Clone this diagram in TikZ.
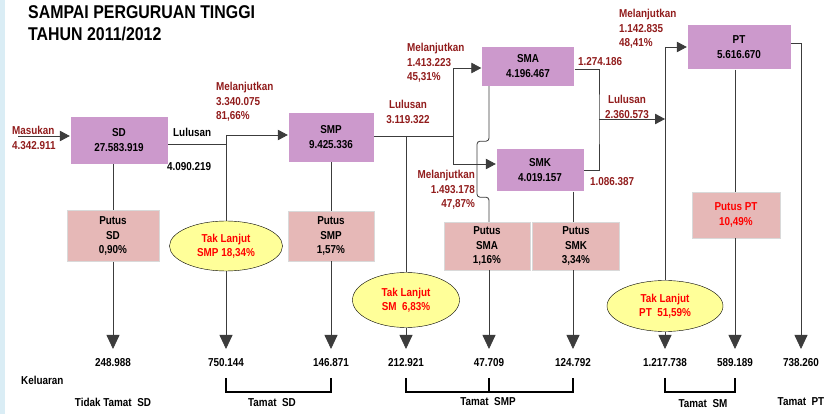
\documentclass[tikz,border=0pt]{standalone}
\usepackage{fontspec}
\setmainfont[FakeStretch=0.86]{Liberation Sans}
\usetikzlibrary{positioning,shapes.geometric,arrows.meta}
\definecolor{levelpurple}{RGB}{204,153,204}
\definecolor{putuspink}{RGB}{230,184,183}
\definecolor{taklanjut}{RGB}{255,255,153}
\definecolor{labelred}{RGB}{145,28,28}
\definecolor{stripblue}{RGB}{218,237,245}
\definecolor{linegray}{RGB}{60,60,60}

\begin{document}
\begin{tikzpicture}[x=1pt, y=-1pt,
    every node/.style={font=\bfseries\fontsize{11.5}{14.5}\selectfont, inner sep=0pt},
    level/.style={draw=white, fill=levelpurple, align=center},
    putus/.style={draw=black!15, fill=putuspink, align=center},
    tak/.style={draw=black, ellipse, fill=taklanjut, text=red, align=center},
    lbl/.style={text=labelred},
    num/.style={anchor=north, outer ysep=9pt},
    link/.style={draw=linegray, line width=0.8pt},
    harr/.style={link, -{Triangle[width=10.5pt,length=10pt]}},
    varr/.style={link, -{Triangle[width=13pt,length=14pt]}},
    brk/.style={draw=black, line width=1.8pt}]
        \fill [stripblue] (0,0) rectangle (5,414);
        \useasboundingbox (0,0) rectangle (831,414);

        \node (title) at (28,5) [anchor=north west, align=left, font=\bfseries\fontsize{18.5}{22}\selectfont] {SAMPAI PERGURUAN TINGGI\\TAHUN 2011/2012};

        \node (sd) at (119,140) [level, minimum width=98pt, minimum height=48pt] {SD\\27.583.919};
        \node (smp) at (331,137) [level, minimum width=86pt, minimum height=50pt] {SMP\\9.425.336};
        \node (sma) at (528,66) [level, minimum width=93pt, minimum height=40pt] {SMA\\4.196.467};
        \node (smk) at (540,170) [level, minimum width=88pt, minimum height=43pt] {SMK\\4.019.157};
        \node (pt) at (739,47) [level, minimum width=104pt, minimum height=45pt] {PT\\5.616.670};

        \node (psd) at (113,236) [putus, minimum width=92pt, minimum height=51pt] {Putus\\SD\\0,90\%};
        \node (psmp) at (331,236) [putus, minimum width=86pt, minimum height=50pt] {Putus\\SMP\\1,57\%};
        \node (psma) at (487,246) [putus, minimum width=86pt, minimum height=48pt] {Putus\\SMA\\1,16\%};
        \node (psmk) at (576,246) [putus, minimum width=87pt, minimum height=48pt] {Putus\\SMK\\3,34\%};
        \node (ppt) at (736,215) [putus, text=red, minimum width=88pt, minimum height=46pt] {Putus PT\\10,49\%};

        \node (tsmp) at (226,246) [tak, minimum width=113pt, minimum height=50pt] {Tak Lanjut\\SMP 18,34\%};
        \node (tsm) at (406,300) [tak, minimum width=107pt, minimum height=55pt] {Tak Lanjut\\SM\ \ 6,83\%};
        \node (tpt) at (665,306) [tak, minimum width=116pt, minimum height=51pt] {Tak Lanjut\\PT\ \ 51,59\%};

        \node (kel1) at (113,349) [num] {248.988};
        \node (kel2) at (226,349) [num] {750.144};
        \node (kel3) at (331,349) [num] {146.871};
        \node (kel4) at (406,349) [num] {212.921};
        \node (kel5) at (489,349) [num] {47.709};
        \node (kel6) at (573,349) [num] {124.792};
        \node (kel7) at (665,349) [num] {1.217.738};
        \node (kel8) at (735,349) [num] {589.189};
        \node (kel9) at (801,349) [num] {738.260};

        \node (masukan) at (12,126) [lbl, anchor=north west, align=left] {Masukan\\4.342.911};
        \node (lulussd) at (173,128) [anchor=north west] {Lulusan};
        \node (lulussdn) at (167,162) [anchor=north west] {4.090.219};
        \node (lanjutsmp) at (216,82) [lbl, anchor=north west, align=left] {Melanjutkan\\3.340.075\\81,66\%};
        \node (lulussmp) at (408,100) [lbl, anchor=north, align=center] {Lulusan\\3.119.322};
        \node (lanjutsma) at (407,43) [lbl, anchor=north west, align=left] {Melanjutkan\\1.413.223\\45,31\%};
        \node (lanjutsmk) at (475,170) [lbl, anchor=north east, align=right] {Melanjutkan\\1.493.178\\47,87\%};
        \node (lulussma) at (578,57) [lbl, anchor=north west] {1.274.186};
        \node (lulussmk) at (590,177) [lbl, anchor=north west] {1.086.387};
        \node (lulussm) at (627,95) [lbl, anchor=north, align=center] {Lulusan\\2.360.573};
        \node (lanjutpt) at (619,9) [lbl, anchor=north west, align=left] {Melanjutkan\\1.142.835\\48,41\%};

        \node (keluaran) at (21,376) [anchor=north west] {Keluaran};
        \node (tidaktamat) at (113,398) [anchor=north] {Tidak Tamat\ \ SD};
        \node (tamatsd) at (272,398) [anchor=north] {Tamat\ \ SD};
        \node (tamatsmp) at (488,397) [anchor=north] {Tamat\ \ SMP};
        \node (tamatsm) at (703,399) [anchor=north] {Tamat\ \ SM};
        \node (tamatpt) at (801,397) [anchor=north] {Tamat\ \ PT};

        \coordinate (masuk) at (18,136);
        \coordinate (sdjoin) at (226,135);
        \coordinate (smpjoin) at (406,136);
        \coordinate (smsplit) at (453,136);
        \coordinate (smjoin) at (599,119);
        \coordinate (ptsplit) at (665,47);
        \coordinate (braceline) at (0,378);

        \draw [harr] (masuk) -- (sd.west |- masuk);
        \draw [link] (sd.south -| psd) -- (psd);
        \draw [varr] (psd) -- (kel1);

        \draw [link] ([yshift=-4pt]sd.east) -- (sdjoin |- 0,144);
        \draw [link] (sdjoin) -- (tsmp);
        \draw [harr] (sdjoin) -- (smp.west |- sdjoin);
        \draw [varr] (tsmp) -- (kel2);
        \draw [link] (smp) -- (psmp);
        \draw [varr] (psmp) -- (kel3);

        \draw [link] (smp.east |- smpjoin) -- (smsplit);
        \draw [link] (smpjoin) -- (tsm);
        \draw [varr] (tsm) -- (kel4);
        \draw [harr] (smsplit) |- ([yshift=-2pt]sma.west);
        \draw [harr] (smsplit) |- ([yshift=6pt]smk.west);

        \draw [link, rounded corners=3pt] (sma.south -| kel5) -- ++(0,55) -- ++(-12,0) -- ++(0,56) -- ++(12,0) -- (psma.north -| kel5);
        \draw [varr] (psma.south -| kel5) -- (kel5);
        \draw [link] (smk.south -| kel6) -- (psmk.north -| kel6);
        \draw [varr] (psmk.south -| kel6) -- (kel6);

        \draw [link] ([yshift=-3pt]sma.east) -| (smjoin) |- (smk.east);
        \draw [harr] (smjoin) -- (ptsplit |- smjoin);
        \draw [link] (ptsplit) -- (tpt);
        \draw [harr] (ptsplit) -- (pt.west |- ptsplit);
        \draw [varr] (tpt) -- (kel7);
        \draw [link] (pt.south -| kel8) -- (ppt.north -| kel8);
        \draw [varr] (ppt.south -| kel8) -- (kel8);
        \draw [varr] ([yshift=4pt]pt.east) -| (kel9);

        \draw [brk] (kel2 |- braceline) -- ++(0,14) -| (kel3 |- braceline);
        \draw [brk] (kel4 |- braceline) -- ++(0,14) -| (kel6 |- braceline);
        \draw [brk] (kel5 |- braceline) -- ++(0,14);
        \draw [brk] (kel7 |- braceline) -- ++(0,14) -| (kel8 |- braceline);
    \end{tikzpicture}
\end{document}
